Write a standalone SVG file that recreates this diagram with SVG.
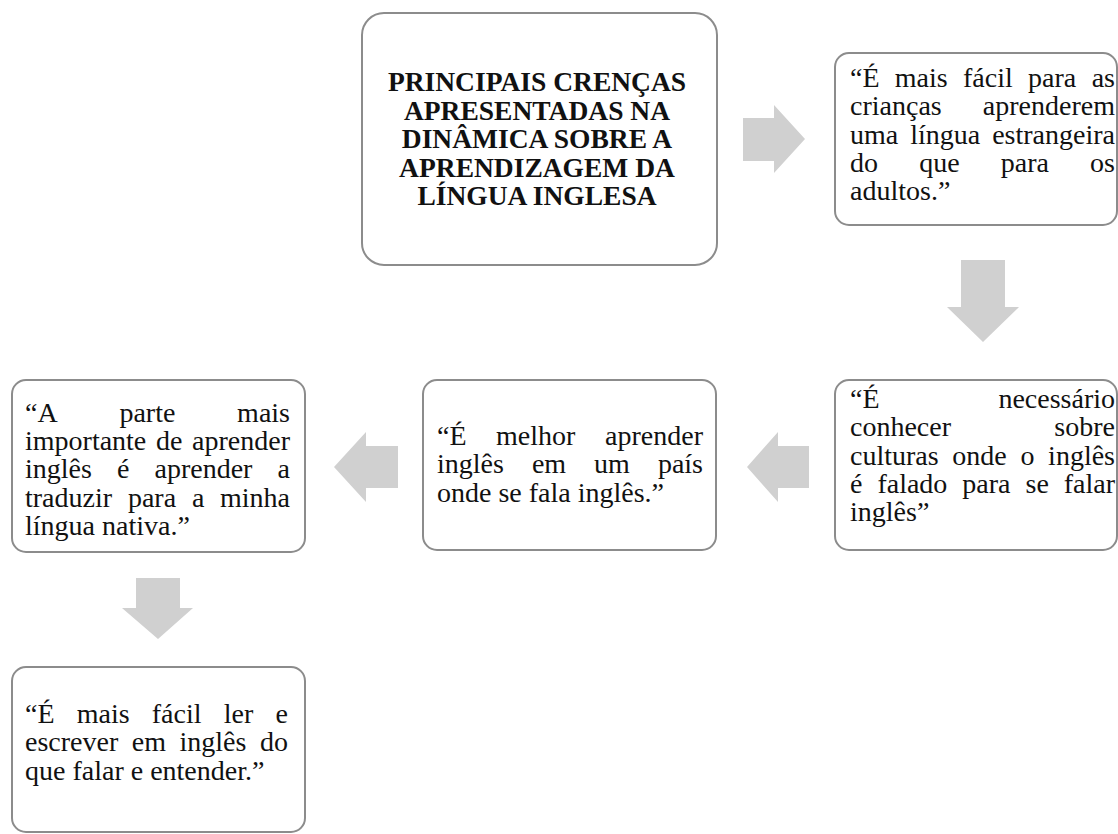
<svg xmlns="http://www.w3.org/2000/svg" width="1118" height="834" viewBox="0 0 1118 834">
<style>
.box{fill:#ffffff;stroke:#8c8c8c;stroke-width:2}
.arr{fill:#d0d0d0;stroke:none}
.t{font-size:28px;fill:#111}
.h{font-size:27.5px;font-weight:bold;fill:#111;text-anchor:middle}
.e{text-anchor:end}
</style>
<rect width="1118" height="834" fill="#ffffff"/>
<g id="connectors">
<polygon class="arr" points="743,118 774,118 774,105 805,139 774,173 774,161 743,161"/>
<polygon class="arr" points="961,260 1005,260 1005,307 1019,307 983,342 947,307 961,307"/>
<polygon class="arr" points="809,446 778,446 778,432 747,467 778,502 778,488 809,488"/>
<polygon class="arr" points="398,446 366,446 366,432 334,467 366,502 366,488 398,488"/>
<polygon class="arr" points="136,578 180,578 180,608 193,608 158,639 122,608 136,608"/>
</g>
<g font-family="'Liberation Serif', 'DejaVu Serif', serif">
<g id="node-main">
<rect class="box" x="362" y="13" width="355" height="252" rx="22"/>
<text class="h" x="537" y="91">PRINCIPAIS CRENÇAS</text>
<text class="h" x="537" y="119.6">APRESENTADAS NA</text>
<text class="h" x="537" y="148.2">DINÂMICA SOBRE A</text>
<text class="h" x="537" y="176.8">APRENDIZAGEM DA</text>
<text class="h" x="537" y="205.4">LÍNGUA INGLESA</text>
</g>
<g id="node-criancas">
<rect class="box" x="835" y="53" width="282" height="172" rx="14"/>
<text class="t" y="87"><tspan x="850">“É</tspan><tspan x="894.8">mais</tspan><tspan x="963">fácil</tspan><tspan x="1028.1">para</tspan><tspan class="e" x="1115">as</tspan></text>
<text class="t" y="115.3"><tspan x="850">crianças</tspan><tspan class="e" x="1115">aprenderem</tspan></text>
<text class="t" y="143.6"><tspan x="850">uma</tspan><tspan x="910.2">língua</tspan><tspan class="e" x="1115">estrangeira</tspan></text>
<text class="t" y="171.9"><tspan x="850">do</tspan><tspan x="919.2">que</tspan><tspan x="1000.8">para</tspan><tspan class="e" x="1115">os</tspan></text>
<text class="t" x="850" y="200.2">adultos.”</text>
</g>
<g id="node-culturas">
<rect class="box" x="835" y="380" width="282" height="170" rx="14"/>
<text class="t" y="408"><tspan x="850">“É</tspan><tspan class="e" x="1115">necessário</tspan></text>
<text class="t" y="436.3"><tspan x="850">conhecer</tspan><tspan class="e" x="1115">sobre</tspan></text>
<text class="t" y="464.6"><tspan x="850">culturas</tspan><tspan x="952.3">onde</tspan><tspan x="1020.4">o</tspan><tspan class="e" x="1115">inglês</tspan></text>
<text class="t" y="492.9"><tspan x="850">é</tspan><tspan x="877.4">falado</tspan><tspan x="962.3">para</tspan><tspan x="1025.5">se</tspan><tspan class="e" x="1115">falar</tspan></text>
<text class="t" x="850" y="521.2">inglês”</text>
</g>
<g id="node-pais">
<rect class="box" x="423" y="380" width="293" height="170" rx="14"/>
<text class="t" y="445"><tspan x="437">“É</tspan><tspan x="496.1">melhor</tspan><tspan class="e" x="703">aprender</tspan></text>
<text class="t" y="473.3"><tspan x="437">inglês</tspan><tspan x="531.9">em</tspan><tspan x="594.1">um</tspan><tspan class="e" x="703">país</tspan></text>
<text class="t" x="437" y="501.6">onde se fala inglês.”</text>
</g>
<g id="node-traduzir">
<rect class="box" x="12" y="380" width="293" height="172" rx="14"/>
<text class="t" y="421.7"><tspan x="25">“A</tspan><tspan x="119.4">parte</tspan><tspan class="e" x="290">mais</tspan></text>
<text class="t" y="450"><tspan x="25">importante</tspan><tspan x="156">de</tspan><tspan class="e" x="290">aprender</tspan></text>
<text class="t" y="478.3"><tspan x="25">inglês</tspan><tspan x="117">é</tspan><tspan x="154.5">aprender</tspan><tspan class="e" x="290">a</tspan></text>
<text class="t" y="506.6"><tspan x="25">traduzir</tspan><tspan x="127.9">para</tspan><tspan x="191.9">a</tspan><tspan class="e" x="290">minha</tspan></text>
<text class="t" x="25" y="534.9">língua nativa.”</text>
</g>
<g id="node-ler">
<rect class="box" x="12" y="667" width="293" height="165" rx="14"/>
<text class="t" y="723"><tspan x="25">“É</tspan><tspan x="76.7">mais</tspan><tspan x="151.8">fácil</tspan><tspan x="223.8">ler</tspan><tspan class="e" x="288">e</tspan></text>
<text class="t" y="751.3"><tspan x="25">escrever</tspan><tspan x="131.8">em</tspan><tspan x="179.5">inglês</tspan><tspan class="e" x="288">do</tspan></text>
<text class="t" x="25" y="779.6">que falar e entender.”</text>
</g>
</g>
</svg>
